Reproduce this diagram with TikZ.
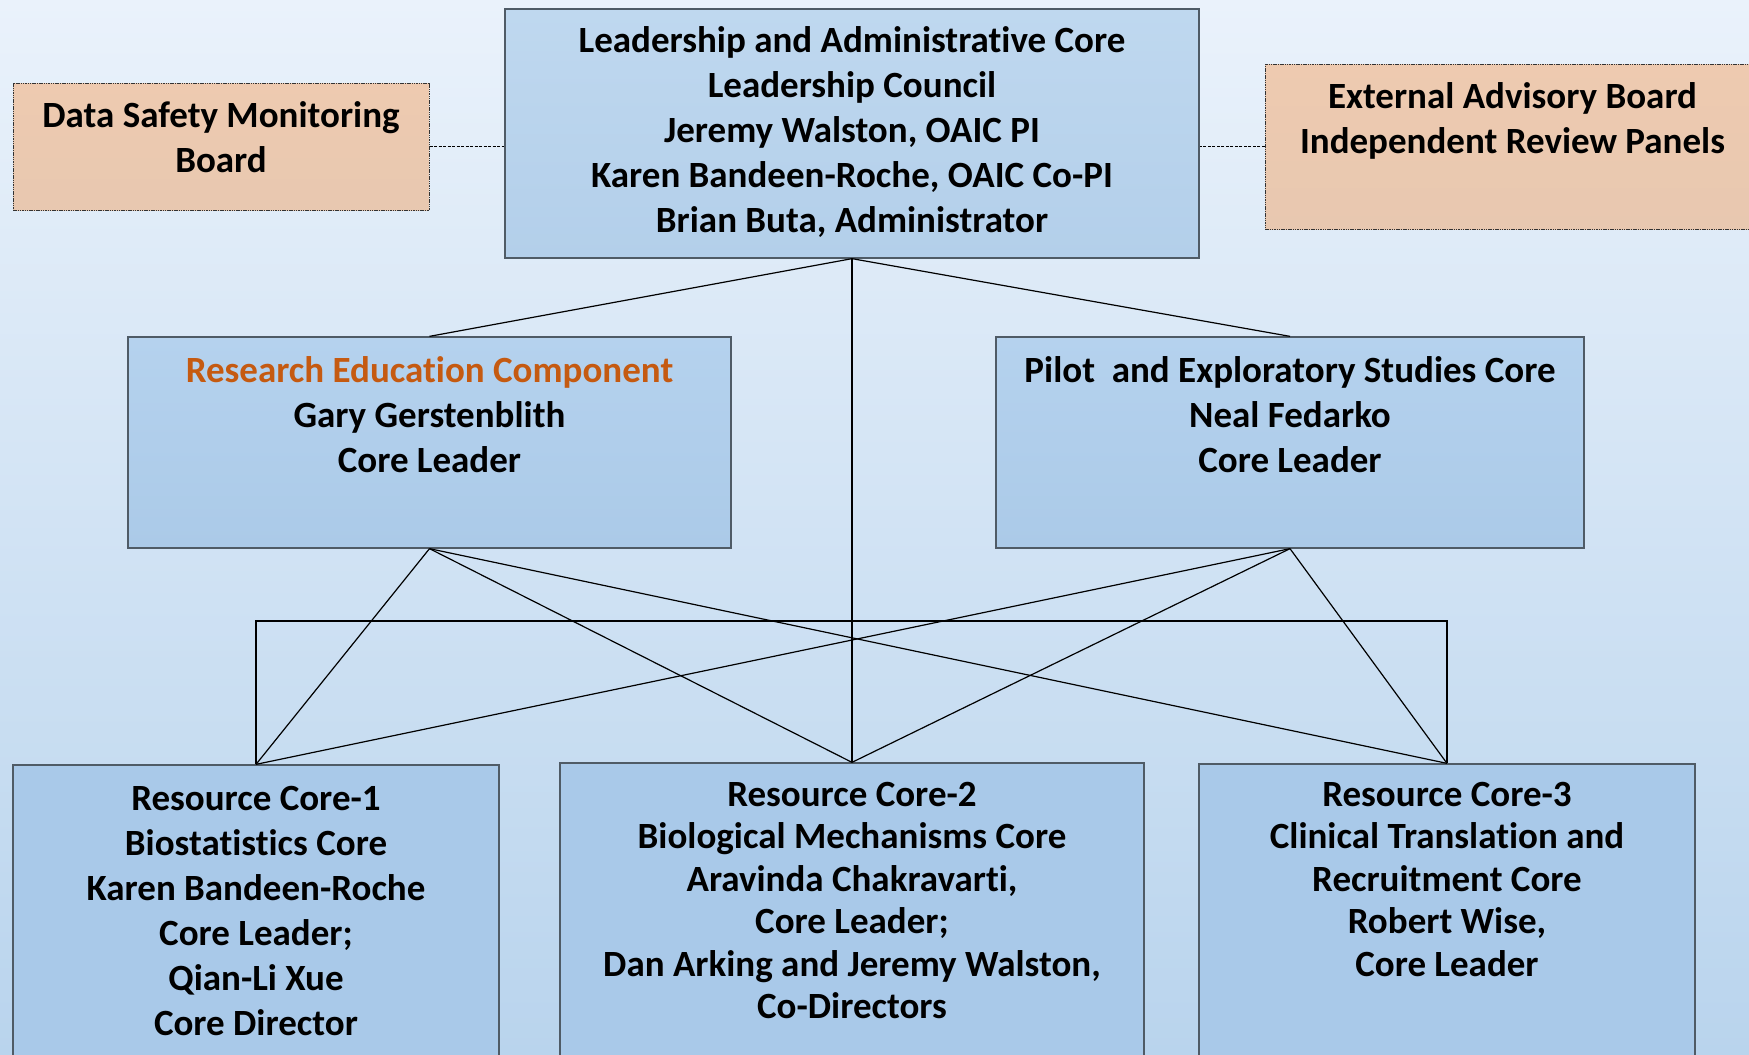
\documentclass[tikz,border=0pt]{standalone}
\usepackage{fontspec}
\setmainfont{Carlito}[Ligatures=NoCommon]
\definecolor{bgtop}{HTML}{EAF2FB}
\definecolor{bgbot}{HTML}{B9D4ED}
\definecolor{lactop}{HTML}{BFD8EF}
\definecolor{lacbot}{HTML}{B3CFEA}
\definecolor{midtop}{HTML}{B5D2EE}
\definecolor{midbot}{HTML}{ABCAE8}
\definecolor{lowtop}{HTML}{A9C9E9}
\definecolor{peachtop}{HTML}{EECAB0}
\definecolor{peachbot}{HTML}{E8C8B0}
\definecolor{edge}{HTML}{4F5B66}
\definecolor{orangetxt}{HTML}{C55A11}
\tikzset{
  box/.style={draw=edge, line width=1.3pt, inner sep=0pt, rectangle},
  bluebox/.style={box, top color=lactop, bottom color=lacbot},
  midbox/.style={box, top color=midtop, bottom color=midbot},
  lowbox/.style={box, fill=lowtop},
  peachbox/.style={draw=black!80, line width=1pt, dash pattern=on 1.5pt off 0.8pt, inner sep=0pt, rectangle, top color=peachtop, bottom color=peachbot},
  txt/.style={anchor=north, inner sep=0pt, align=center, font=\fontsize{37}{45}\selectfont\bfseries},
  txtb/.style={anchor=north, inner sep=0pt, align=center, font=\fontsize{37}{42.5}\selectfont\bfseries},
  link/.style={draw=black, line width=1.2pt},
  dlink/.style={draw=black, line width=1.2pt, dash pattern=on 3pt off 1.5pt}
}
\newcommand{\fs}{\rule{0pt}{30pt}}
\begin{document}
\begin{tikzpicture}[x=1pt,y=-1pt]
\useasboundingbox (0,0) rectangle (1749,1055);
\clip (0,0) rectangle (1749,1055);
\shade[top color=bgtop, bottom color=bgbot] (0,0) rectangle (1749,1055);

% boxes
\node[bluebox, minimum width=694, minimum height=249] (lac) at (852,133.5) {};
\node[peachbox, minimum width=416, minimum height=127] (dsmb) at (221,146.5) {};
\node[peachbox, minimum width=495, minimum height=165] (eab) at (1512.5,146.5) {};
\node[midbox, minimum width=603, minimum height=211] (rec) at (429.5,442.5) {};
\node[midbox, minimum width=588, minimum height=211] (pes) at (1290,442.5) {};
\node[lowbox, minimum width=486, minimum height=320] (rc1) at (256,925) {};
\node[lowbox, minimum width=584, minimum height=322] (rc2) at (852,924) {};
\node[lowbox, minimum width=496, minimum height=321] (rc3) at (1447,924.5) {};

% texts
\node[txt] (laclbl) at (852,22) {\fs Leadership and Administrative Core\\Leadership Council\\Jeremy Walston, OAIC PI\\Karen Bandeen-Roche, OAIC Co-PI\\Brian Buta, Administrator};
\node[txt] (dsmblbl) at (221,97) {\fs Data Safety Monitoring\\Board};
\node[txt] (eablbl) at (1512.5,78) {\fs External Advisory Board\\Independent Review Panels};
\node[txt] (reclbl) at (429.5,352) {\fs\textcolor{orangetxt}{Research Education Component}\\Gary Gerstenblith\\Core Leader};
\node[txt] (peslbl) at (1290,352) {\fs Pilot\ \ and Exploratory Studies Core\\Neal Fedarko\\Core Leader};
\node[txt] (rc1lbl) at (256,780) {\fs Resource Core-1\\Biostatistics Core\\Karen Bandeen-Roche\\Core Leader;\\Qian-Li Xue\\Core Director};
\node[txtb] (rc2lbl) at (852,776) {\fs Resource Core-2\\Biological Mechanisms Core\\Aravinda Chakravarti,\\Core Leader;\\Dan Arking and Jeremy Walston,\\Co-Directors};
\node[txtb] (rc3lbl) at (1447,776) {\fs Resource Core-3\\Clinical Translation and\\Recruitment Core\\Robert Wise,\\Core Leader};

% dashed links
\draw[dlink] (dsmb.east) -- (dsmb.east -| lac.west);
\draw[dlink] (eab.west) -- (eab.west -| lac.east);

% links from leadership
\draw[link] (lac.south) -- (rec.north);
\draw[link] (lac.south) -- (pes.north);
\draw[link] (lac.south) -- (rc2.north);

% links from REC and PES
\draw[link] (rec.south) -- (rc1.north);
\draw[link] (rec.south) -- (rc2.north);
\draw[link] (rec.south) -- (rc3.north);
\draw[link] (pes.south) -- (rc1.north);
\draw[link] (pes.south) -- (rc2.north);
\draw[link] (pes.south) -- (rc3.north);

% bracket between resource cores
\coordinate (brk) at (0,621);
\draw[link] (rc1.north) -- (rc1.north |- brk) -- (rc3.north |- brk) -- (rc3.north);
\end{tikzpicture}
\end{document}
